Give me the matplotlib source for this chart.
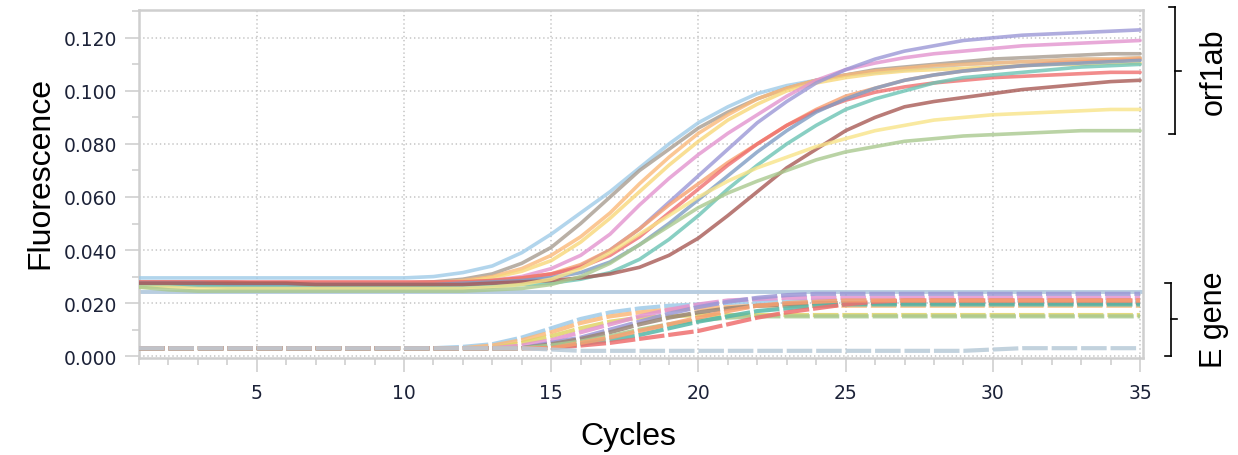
import numpy as np
import matplotlib
matplotlib.use("Agg")
import matplotlib.pyplot as plt
from matplotlib.lines import Line2D
from matplotlib.ticker import MultipleLocator, FormatStrFormatter

# cycles 1..35
cycles = np.arange(1, 36)

# orf1ab amplification curves (fluorescence x 1000), one value per cycle
orf_blue = [29.5] * 10 + [30, 31.5, 34, 39, 46, 54, 62, 71, 80, 88, 94, 99, 102, 104, 106, 107, 108, 109, 110, 110.5, 111, 111.5, 112, 112, 112.5]
orf_gray = [28] * 4 + [27.5] * 6 + [28, 29, 31, 35, 41, 50, 60, 70, 78, 86, 92, 97, 101, 104, 106, 108, 109, 110, 111, 112, 112.5, 113, 113.5, 114, 114]
orf_orange = [27.5] * 3 + [27] * 7 + [27.5, 28.5, 30, 33, 38, 45, 54, 65, 75, 84, 91, 97, 101, 104, 106, 107.5, 108.5, 109.5, 110, 110.5, 111, 111.5, 112, 112, 112.5]
orf_yellow = [27] * 3 + [26.5] * 7 + [27, 28, 29.5, 32, 36, 43, 52, 62, 72, 81, 89, 95, 100, 103, 105, 106.5, 107.5, 108, 108.5, 109, 109.5, 110, 110, 110.5, 110.5]
orf_pink = [27] * 11 + [27.5, 28.5, 30, 33, 38, 46, 57, 67, 76, 84, 91, 98, 104, 108, 110.5, 112.5, 114, 115, 116, 117, 117.5, 118, 118.5, 119]
orf_purple = [27] * 2 + [26.5] * 9 + [27, 27.5, 28.5, 30.5, 34, 40, 48, 58, 68, 78, 88, 96, 103, 108, 112, 115, 117, 119, 120, 121, 121.5, 122, 122.5, 123]
orf_salmon = [27.5] * 11 + [28, 28.5, 29.5, 31, 34.5, 40, 48, 57, 65, 73, 80, 87, 93, 98, 101, 104, 106, 107.5, 108.5, 109.5, 110.5, 111, 111.5, 112]
orf_red = [28] * 12 + [28.5, 29.5, 31, 33.5, 38, 45, 54, 63, 72, 80, 87, 92.5, 96.5, 99.5, 101.5, 103, 104, 105, 105.5, 106, 106.5, 107, 107]
orf_steel = [27.5] * 3 + [27] * 8 + [27.5, 28, 28.5, 29.5, 31.5, 35.5, 42, 50, 59, 68, 77, 85, 92, 97, 101, 104, 106, 107.5, 108.5, 109.5, 110, 110.5, 111, 111.5]
orf_teal = [26.5] * 3 + [26] * 9 + [26.5, 27, 27.5, 29, 31.5, 36.5, 44, 53, 63, 72, 80, 87, 93, 97, 100, 103, 105, 106, 107, 108, 109, 109.5, 110]
orf_brown = [27.5] * 6 + [27] * 6 + [27.5, 28, 28.5, 29.5, 31, 33.5, 38, 44.5, 53, 62, 71, 78, 85, 90, 94, 96, 97.5, 99, 100.5, 101.5, 102.5, 103.5, 104]
orf_paleyellow = [26, 26] + [25.5] * 10 + [26, 27, 29, 33, 39, 46, 53, 60, 66, 71, 75, 79, 82, 85, 87, 89, 90, 91, 91.5, 92, 92.5, 93, 93]
orf_green = [26, 25] + [24.5] * 10 + [25, 25.5, 27, 30, 35, 42, 49, 56, 61.5, 66, 70, 74, 77, 79, 81, 82, 83, 83.5, 84, 84.5, 85, 85, 85]

# E gene amplification curves (fluorescence x 1000)
e_blue = [3] * 11 + [3.5, 4.5, 7, 10.5, 14, 16.5, 18, 19, 19.5, 20, 20.5, 20.5] + [21] * 12
e_orange = [3] * 12 + [4, 6, 9, 12.5, 15, 16.5, 17.5, 18, 18.5, 19] + [19] * 13
e_yellow = [3] * 13 + [5, 7.5, 10.5, 13, 14.5, 15] + [15.5] * 16
e_pink = [3] * 13 + [4, 6, 9, 12, 15, 17.5, 19.5, 21, 21.5] + [22] * 13
e_purple = [3] * 14 + [5, 7, 10, 13, 16, 18.5, 20.5, 22, 23] + [23.5] * 12
e_brown = [3] * 14 + [4.5, 6.5, 9, 12, 14.5, 16.5, 18, 19, 19.5] + [20] * 12
e_green = [3] * 14 + [4, 5.5, 7.5, 10, 12, 13.5, 14.5] + [15] * 14
e_teal = [3] * 15 + [4.5, 6, 8, 10.5, 13, 15, 17, 18, 19] + [19.5] * 11
e_red = [3] * 15 + [4, 5, 6.5, 8, 9.5, 12, 14.5, 16.5, 18, 19.5, 20.5] + [21] * 9
e_salmon = [3] * 15 + [5, 7, 9.5, 12, 14.5, 17, 19, 20, 20.5] + [21] * 11
e_flat = [3] * 14 + [2.5] + [2] * 14 + [2.5] + [3] * 5

threshold = 0.0243

orf_curves = [
    (orf_blue, "#9fcbe8"), (orf_gray, "#a89c90"), (orf_orange, "#fbb97a"),
    (orf_yellow, "#f8d77a"), (orf_pink, "#e394cf"), (orf_purple, "#9b98d6"),
    (orf_salmon, "#f7a070"), (orf_red, "#ef6f6f"), (orf_steel, "#7f9cc4"),
    (orf_teal, "#6cc4b4"), (orf_brown, "#a85a55"), (orf_paleyellow, "#f8e488"),
    (orf_green, "#a9c98f"),
]
e_curves = [
    (e_blue, "#9fcbe8"), (e_orange, "#fbb97a"), (e_yellow, "#e0d468"),
    (e_pink, "#e394cf"), (e_purple, "#9b98d6"), (e_brown, "#9a8676"),
    (e_green, "#a9c98f"), (e_teal, "#55b8a8"), (e_red, "#ef6f6f"),
    (e_salmon, "#f7a070"), (e_flat, "#b8cad8"),
]

plt.rcParams["lines.scale_dashes"] = False

W, H = 1238, 456
fig = plt.figure(figsize=(W / 100, H / 100), dpi=100)
ax = fig.add_axes([139 / W, 1 - 359 / H, (1143 - 139) / W, (359 - 11) / H])

ax.axhline(threshold, color="#b8cde0", lw=2.8, zorder=2)

for vals, col in orf_curves:
    ax.plot(cycles, np.array(vals) / 1000, color=col, lw=2.6, alpha=0.8,
            solid_capstyle="round", solid_joinstyle="round", zorder=3)

for vals, col in e_curves:
    ax.plot(cycles, np.array(vals) / 1000, color=col, lw=3.0, alpha=0.85,
            dashes=(18.4, 2.8), dash_capstyle="butt", zorder=3)

ax.set_xlim(1, 35.1)
ax.set_ylim(-0.0007, 0.1305)

ax.xaxis.set_major_locator(MultipleLocator(5))
ax.xaxis.set_minor_locator(MultipleLocator(1))
ax.yaxis.set_major_locator(MultipleLocator(0.02))
ax.yaxis.set_minor_locator(MultipleLocator(0.01))
ax.yaxis.set_major_formatter(FormatStrFormatter("%.3f"))

ax.grid(True, which="major", color="#c4c4c4", linestyle=(0, (1, 2)), lw=1.1)
ax.set_axisbelow(True)

for s in ax.spines.values():
    s.set_color("#cfcfcf")
    s.set_linewidth(1.8)

ax.tick_params(axis="both", which="major", length=10, color="#d0d0d0", width=1.2,
               labelsize=13.5, labelcolor="#1c2238")
ax.tick_params(axis="both", which="minor", length=5, color="#d0d0d0", width=1.2)
ax.tick_params(axis="x", which="major", pad=8)
ax.tick_params(axis="y", which="major", pad=6)

ax.set_xlabel("Cycles", fontsize=23, family="Liberation Sans", labelpad=14)
ax.set_ylabel("Fluorescence", fontsize=23, family="Liberation Sans", labelpad=6)
ax.xaxis.label.set_x(0.487)
ax.yaxis.label.set_y(0.535)


def bracket(x_line, x_end, y_top, y_bot, y_mid, x_mid):
    # brackets drawn in figure pixel coordinates
    pts = [((x_end, x_line), (y_top, y_top)),
           ((x_line, x_line), (y_top, y_bot)),
           ((x_end, x_line), (y_bot, y_bot)),
           ((x_line, x_mid), (y_mid, y_mid))]
    for xs, ys in pts:
        fig.add_artist(Line2D([x / W for x in xs], [1 - y / H for y in ys],
                              color="black", lw=1.2))


bracket(1175, 1169, 8, 135, 72, 1181)
bracket(1171, 1165, 284, 357, 320, 1177)

fig.text(1214 / W, 1 - 72 / H, "orf1ab", rotation=90, ha="center", va="center",
         fontsize=22, family="Liberation Sans")
fig.text(1214 / W, 1 - 320 / H, "E gene", rotation=90, ha="center", va="center",
         fontsize=22, family="Liberation Sans")

fig.savefig("out.png", dpi=100)
